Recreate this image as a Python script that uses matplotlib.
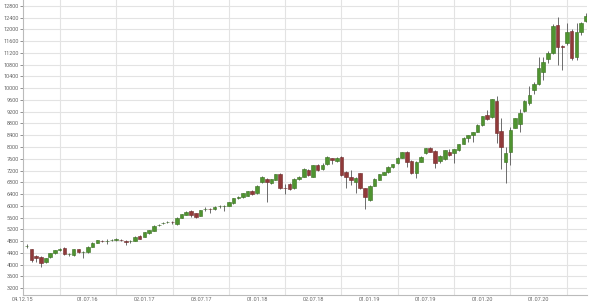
import matplotlib
matplotlib.use("Agg")
import matplotlib.pyplot as plt
import matplotlib.dates as mdates
import pandas as pd
import numpy as np

# Semi-monthly candle periods (Dec 16 2015 ... Dec 1 2020)
dates = pd.date_range("2015-12-16", periods=120, freq="SMS-16")

opens = [4630, 4517, 4290, 4266, 4075, 4245, 4380, 4505, 4550, 4355,
         4323, 4517, 4430, 4415, 4606, 4742, 4810, 4800, 4820, 4850,
         4850, 4780, 4790, 4810, 4970, 4946, 5062, 5150, 5335, 5400,
         5440, 5440, 5380, 5593, 5685, 5830, 5740, 5655, 5875, 5885,
         5880, 5985, 5990, 5990, 6083, 6270, 6310, 6340, 6510, 6423,
         6798, 6910, 6764, 6876, 7070, 6600, 6730, 6594, 6910, 6990,
         7220, 6990, 7387, 7250, 7420, 7620, 7520, 7670, 7160, 6990,
         6820, 7100, 6594, 6200, 6680, 6876, 7050, 7140, 7310, 7445,
         7640, 7820, 7530, 7100, 7500, 7785, 7950, 7860, 7530, 7590,
         7840, 7790, 7900, 8110, 8300, 8400, 8520, 8750, 9090, 9030,
         9575, 8555, 7500, 7840, 8660, 8780, 9235, 9490, 9940, 10145,
         10570, 10990, 11210, 12170, 11440, 11530, 11950, 11070, 11900, 12300]
highs = [4710, 4540, 4330, 4290, 4230, 4400, 4510, 4560, 4600, 4400,
         4540, 4540, 4470, 4620, 4760, 4850, 4840, 4870, 4860, 4890,
         4880, 4840, 4830, 4960, 4990, 5110, 5190, 5330, 5370, 5440,
         5480, 5470, 5610, 5720, 5810, 5860, 5770, 5870, 5950, 5920,
         5990, 6030, 6020, 6130, 6270, 6320, 6440, 6510, 6540, 6690,
         7020, 6960, 6920, 7090, 7100, 6730, 6760, 6930, 7010, 7280,
         7260, 7400, 7420, 7460, 7690, 7640, 7660, 7700, 7170, 7217,
         6980, 7120, 6620, 6690, 6930, 7080, 7150, 7340, 7420, 7650,
         7830, 7860, 7560, 7510, 7690, 7970, 8000, 7890, 7720, 7910,
         7920, 7940, 8100, 8330, 8420, 8520, 8770, 9070, 9260, 9650,
         9735, 8976, 8010, 8690, 9000, 9310, 9590, 10060, 10210, 11080,
         11080, 11260, 12190, 12440, 11470, 12210, 12000, 12210, 12270, 12560]
lows = [4560, 4095, 4080, 3925, 4040, 4220, 4360, 4460, 4310, 4290,
        4300, 4400, 4210, 4400, 4590, 4730, 4760, 4700, 4790, 4800,
        4790, 4660, 4740, 4790, 4860, 4930, 5050, 5140, 5300, 5370,
        5400, 5380, 5360, 5580, 5670, 5620, 5600, 5640, 5820, 5760,
        5860, 5940, 5830, 5980, 6070, 6220, 6260, 6320, 6380, 6410,
        6780, 6140, 6740, 6860, 6560, 6390, 6520, 6570, 6890, 6970,
        7010, 6970, 7190, 7230, 7400, 7420, 7480, 7000, 6594, 6706,
        6423, 6580, 5880, 6150, 6660, 6860, 7030, 7120, 7290, 7430,
        7620, 7330, 7080, 6950, 7480, 7760, 7820, 7300, 7450, 7570,
        7700, 7445, 7880, 8100, 8180, 8180, 8500, 8700, 8920, 9000,
        8126, 7240, 6765, 7390, 8640, 8500, 9200, 9430, 9800, 10120,
        10280, 10850, 11150, 10790, 10620, 11480, 10960, 10960, 11810, 12260]
closes = [4645, 4153, 4210, 4040, 4210, 4380, 4494, 4520, 4347, 4357,
          4517, 4425, 4436, 4606, 4742, 4834, 4800, 4810, 4834, 4857,
          4834, 4776, 4800, 4946, 4880, 5096, 5175, 5320, 5345, 5410,
          5450, 5430, 5593, 5710, 5800, 5685, 5630, 5855, 5885, 5875,
          5970, 5995, 5995, 6117, 6253, 6280, 6423, 6500, 6400, 6672,
          6990, 6800, 6900, 7070, 6594, 6590, 6560, 6910, 6990, 7250,
          7050, 7387, 7220, 7380, 7660, 7570, 7640, 7050, 6970, 6876,
          6960, 6594, 6310, 6672, 6910, 7070, 7140, 7330, 7410, 7640,
          7820, 7500, 7100, 7500, 7670, 7950, 7840, 7465, 7700, 7900,
          7730, 7930, 8090, 8310, 8410, 8510, 8750, 9055, 8970, 9620,
          8465, 7990, 7810, 8580, 9000, 9150, 9575, 9770, 10145, 10680,
          10880, 11190, 12120, 11410, 11420, 11900, 11020, 11900, 12230, 12470]

tick_dates = ["2015-12-04", "2016-07-01", "2017-01-02", "2017-07-03", "2018-01-01",
              "2018-07-02", "2019-01-01", "2019-07-01", "2020-01-01", "2020-07-01"]
tick_labels = ["04.12.15", "01.07.16", "02.01.17", "03.07.17", "01.01.18",
               "02.07.18", "01.01.19", "01.07.19", "01.01.20", "01.07.20"]
grid_dates = ["2016-04-01", "2016-07-01", "2016-10-01", "2017-01-02", "2017-04-03",
              "2017-07-03", "2017-10-02", "2018-01-01", "2018-04-02", "2018-07-02",
              "2018-10-01", "2019-01-01", "2019-04-01", "2019-07-01", "2019-10-01",
              "2020-01-01", "2020-04-01", "2020-07-01", "2020-10-01"]
y_ticks = list(range(3200, 12801, 400))

GREEN = "#4f9430"
GREEN_EDGE = "#3a6e22"
RED = "#913a3a"
RED_EDGE = "#6e2a2a"
WICK = "#555555"
TEXT = "#666666"
GRID = "#e3e3e3"

plt.rcParams["font.family"] = ["Roboto", "DejaVu Sans"]

fig = plt.figure(figsize=(6.0, 3.07), dpi=100)
ax = fig.add_axes([23 / 600, 12 / 307, 564 / 600, 295 / 307])

xd = mdates.date2num(dates)
width = 11.5  # days

for x, o, h, l, c in zip(xd, opens, highs, lows, closes):
    up = c >= o
    ax.vlines(x, l, h, color=WICK, linewidth=0.6, zorder=2)
    bottom = min(o, c)
    height = max(abs(c - o), 12)
    ax.bar(x, height, width=width, bottom=bottom,
           color=GREEN if up else RED,
           edgecolor=GREEN_EDGE if up else RED_EDGE,
           linewidth=0.4, zorder=3)

ax.set_xlim(mdates.date2num(pd.Timestamp("2015-12-04")),
            mdates.date2num(pd.Timestamp("2020-12-05")))
ax.set_ylim(2962, 13004)

ax.set_xticks(mdates.date2num(pd.to_datetime(tick_dates)))
ax.set_xticklabels(tick_labels)
ax.set_xticks(mdates.date2num(pd.to_datetime(grid_dates)), minor=True)
ax.set_yticks(y_ticks)
ax.set_yticklabels([str(v) for v in y_ticks])

ax.grid(True, which="minor", axis="x", color=GRID, linewidth=0.8, zorder=0)
ax.grid(True, which="major", axis="y", color=GRID, linewidth=0.8, zorder=0)
ax.set_axisbelow(True)

ax.tick_params(axis="both", which="major", labelsize=4, colors=TEXT,
               length=2, width=0.5, pad=1)
ax.tick_params(axis="x", which="major", length=0, pad=1.5)
ax.tick_params(axis="x", which="minor", length=0)

for s in ["top", "right"]:
    ax.spines[s].set_visible(False)
for s in ["left", "bottom"]:
    ax.spines[s].set_color("#bbbbbb")
    ax.spines[s].set_linewidth(0.8)

fig.savefig("out.png", dpi=100)
